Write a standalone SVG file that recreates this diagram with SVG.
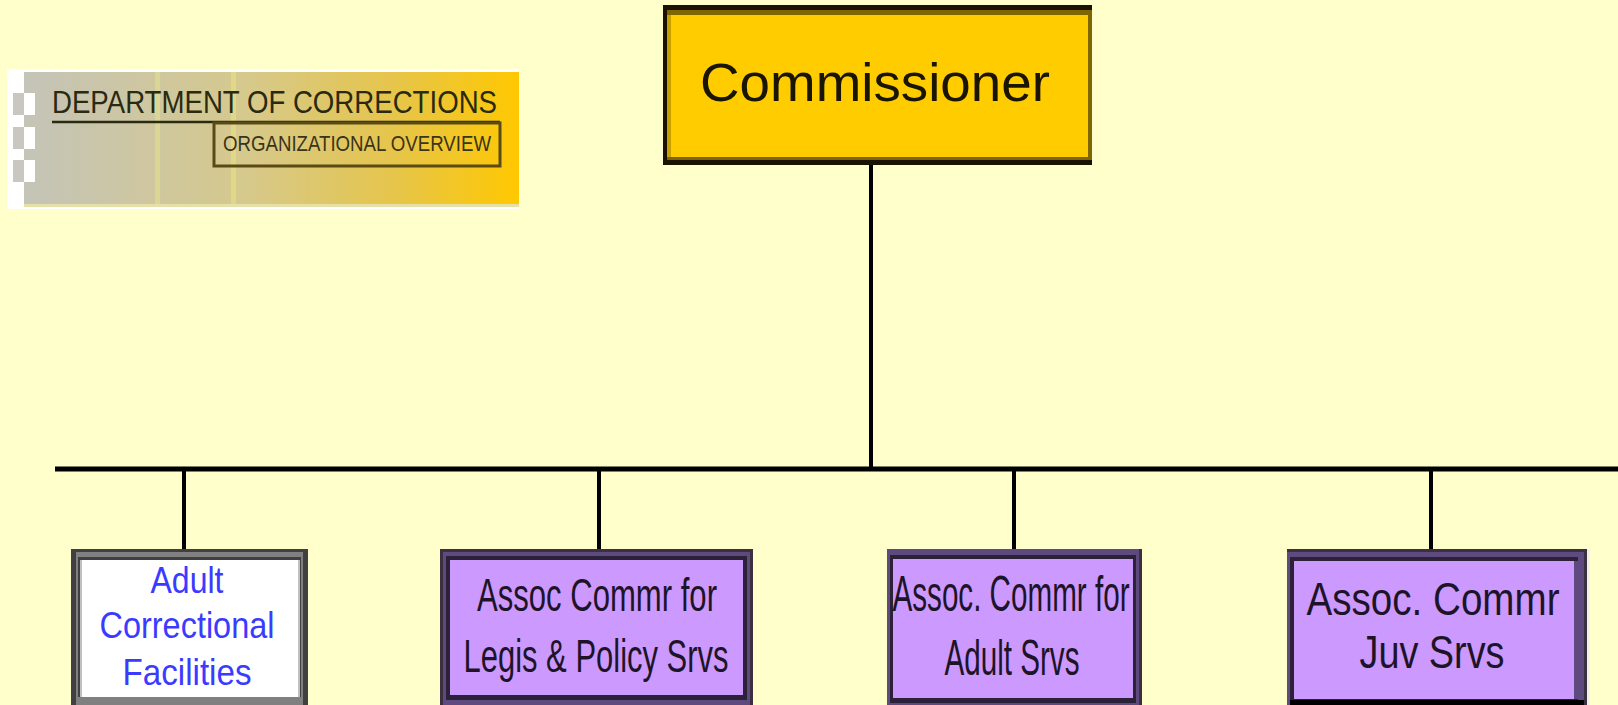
<svg xmlns="http://www.w3.org/2000/svg" width="1618" height="705" viewBox="0 0 1618 705">
  <defs>
    <linearGradient id="logoGrad" x1="0" y1="0" x2="1" y2="0">
      <stop offset="0" stop-color="#C4C4B8"/>
      <stop offset="0.45" stop-color="#D6C98C"/>
      <stop offset="0.75" stop-color="#E6C54A"/>
      <stop offset="1" stop-color="#FFC800"/>
    </linearGradient>
    <style>
      .bg { fill: #FFFFCC; }
      .conn { stroke: #000; fill: none; }
      .lbl { font-family: "Liberation Sans", Arial, sans-serif; text-anchor: middle; }
      .purple-outer { fill: #3A3040; }
      .purple-mid { fill: #5E4A7E; }
      .purple-inner { fill: #2B2238; }
      .purple-fill { fill: #CC99FF; }
      .ptext { fill: #1E1428; }
      .btext { fill: #3B3BFF; }
    </style>
  </defs>

  <rect class="bg" x="0" y="0" width="1618" height="705"/>

  <!-- Logo -->
  <g id="logo">
    <rect x="7" y="69" width="512" height="140" fill="#FFFFFF"/>
    <rect x="24" y="72" width="495" height="135" fill="url(#logoGrad)"/>
    <rect x="155" y="72" width="5" height="132" fill="#DEDA94" opacity="0.8"/>
    <rect x="231" y="72" width="5" height="132" fill="#E2DC86" opacity="0.8"/>
    <rect x="24" y="204" width="495" height="3" fill="#E4E0A8"/>
    <rect x="13" y="93" width="11" height="22" fill="#C8C8C0"/>
    <rect x="24" y="93" width="11" height="22" fill="#FFFFFF"/>
    <rect x="13" y="127" width="11" height="22" fill="#C8C8C0"/>
    <rect x="24" y="127" width="11" height="22" fill="#FFFFFF"/>
    <rect x="13" y="160" width="11" height="22" fill="#C8C8C0"/>
    <rect x="24" y="160" width="11" height="22" fill="#FFFFFF"/>
    <text x="52" y="113" font-family="Liberation Sans, Arial, sans-serif" font-size="32" fill="#2A2A10" textLength="445" lengthAdjust="spacingAndGlyphs">DEPARTMENT OF CORRECTIONS</text>
    <line x1="52" y1="122" x2="500" y2="122" stroke="#2A2A10" stroke-width="2.5"/>
    <rect x="214" y="123" width="286" height="43" fill="none" stroke="#5A4A14" stroke-width="3"/>
    <text x="223" y="151" font-family="Liberation Sans, Arial, sans-serif" font-size="22" fill="#3A3418" textLength="268" lengthAdjust="spacingAndGlyphs">ORGANIZATIONAL OVERVIEW</text>
  </g>

  <!-- Connectors -->
  <g id="connectors">
    <line class="conn" x1="871" y1="163" x2="871" y2="469" stroke-width="4"/>
    <line class="conn" x1="55" y1="469" x2="1618" y2="469" stroke-width="5"/>
    <line class="conn" x1="184" y1="469" x2="184" y2="550" stroke-width="4"/>
    <line class="conn" x1="599" y1="469" x2="599" y2="550" stroke-width="4"/>
    <line class="conn" x1="1014" y1="469" x2="1014" y2="550" stroke-width="4"/>
    <line class="conn" x1="1431" y1="469" x2="1431" y2="550" stroke-width="4"/>
  </g>

  <!-- Commissioner -->
  <g id="commissioner">
    <rect x="663" y="5" width="429" height="160" fill="#1A1200"/>
    <rect x="667" y="10" width="425" height="150" fill="#806600"/>
    <rect x="667" y="15" width="421" height="142" fill="#C8A000"/>
    <rect x="671" y="15" width="417" height="142" fill="#FFCC00"/>
    <text class="lbl" x="875" y="101" font-size="53" fill="#1A1500" textLength="350" lengthAdjust="spacingAndGlyphs">Commissioner</text>
  </g>

  <!-- Adult Correctional Facilities -->
  <g id="adult-facilities">
    <rect x="71" y="549" width="237" height="160" fill="#404040"/>
    <rect x="76" y="552" width="227" height="157" fill="#808080"/>
    <rect x="78" y="557" width="223" height="152" fill="#404040"/>
    <rect x="80" y="560" width="220" height="137" fill="#C0C0C0"/>
    <rect x="82" y="560" width="216" height="137" fill="#FFFFFF"/>
    <rect x="76" y="697" width="227" height="8" fill="#808080"/>
    <text class="lbl btext" x="187" y="593" font-size="37" textLength="73" lengthAdjust="spacingAndGlyphs">Adult</text>
    <text class="lbl btext" x="187" y="638" font-size="37" textLength="175" lengthAdjust="spacingAndGlyphs">Correctional</text>
    <text class="lbl btext" x="187" y="685" font-size="37" textLength="129" lengthAdjust="spacingAndGlyphs">Facilities</text>
  </g>

  <!-- Legis & Policy -->
  <g id="legis-policy">
    <rect class="purple-outer" x="440" y="549" width="313" height="160"/>
    <rect class="purple-mid" x="443" y="552" width="307" height="157"/>
    <rect class="purple-inner" x="446" y="556" width="301" height="149"/>
    <rect class="purple-fill" x="450" y="560" width="293" height="135"/>
    <rect class="purple-mid" x="443" y="700" width="307" height="5"/>
    <text class="lbl ptext" x="597" y="611" font-size="46" textLength="240" lengthAdjust="spacingAndGlyphs">Assoc Commr for</text>
    <text class="lbl ptext" x="596" y="672" font-size="46" textLength="265" lengthAdjust="spacingAndGlyphs">Legis &amp; Policy Srvs</text>
  </g>

  <!-- Adult Srvs -->
  <g id="adult-srvs">
    <rect class="purple-outer" x="887" y="549" width="255" height="160"/>
    <rect class="purple-mid" x="887" y="549" width="252" height="160"/>
    <rect class="purple-inner" x="890" y="555" width="246" height="150"/>
    <rect class="purple-fill" x="893" y="559" width="240" height="139"/>
    <rect class="purple-mid" x="890" y="703" width="246" height="2"/>
    <text class="lbl ptext" x="1011" y="611" font-size="50" textLength="237" lengthAdjust="spacingAndGlyphs">Assoc. Commr for</text>
    <text class="lbl ptext" x="1012" y="675" font-size="50" textLength="135" lengthAdjust="spacingAndGlyphs">Adult Srvs</text>
  </g>

  <!-- Juv Srvs -->
  <g id="juv-srvs">
    <rect x="1287" y="549" width="303" height="160" fill="#F0F0F0"/>
    <rect class="purple-outer" x="1287" y="549" width="300" height="160"/>
    <rect class="purple-mid" x="1287" y="552" width="297" height="157"/>
    <rect class="purple-inner" x="1290" y="557" width="288" height="148"/>
    <rect class="purple-fill" x="1294" y="561" width="280" height="138"/>
    <rect class="purple-mid" x="1574" y="561" width="4" height="138"/>
    <rect x="1290" y="700" width="294" height="5" fill="#000000"/>
    <text class="lbl ptext" x="1433" y="615" font-size="46" textLength="253" lengthAdjust="spacingAndGlyphs">Assoc. Commr</text>
    <text class="lbl ptext" x="1432" y="668" font-size="46" textLength="145" lengthAdjust="spacingAndGlyphs">Juv Srvs</text>
  </g>
</svg>
